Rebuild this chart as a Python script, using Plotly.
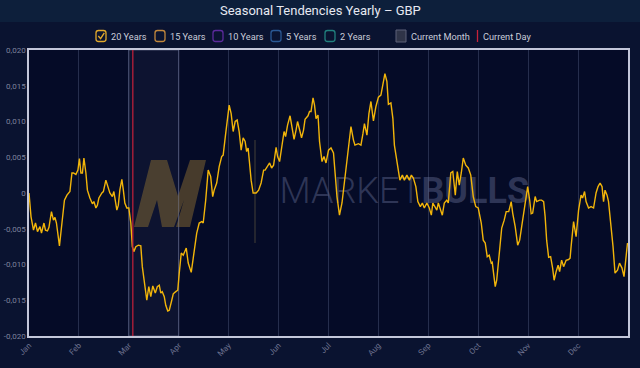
import plotly.graph_objects as go

# ---- data ----
month_labels = ["Jan", "Feb", "Mar", "Apr", "May", "Jun", "Jul", "Aug", "Sep", "Oct", "Nov", "Dec"]
month_ticks = list(range(12))

x_pos = [0.00, 0.04, 0.09, 0.13, 0.17, 0.22, 0.25, 0.30, 0.33, 0.37, 0.40, 0.45, 0.49, 0.52, 0.55, 0.61, 0.66, 0.71, 0.76, 0.79,
         0.82, 0.86, 0.89, 0.94, 0.98, 1.01, 1.04, 1.07, 1.10, 1.14, 1.17, 1.22, 1.27, 1.30, 1.34, 1.37, 1.40, 1.46, 1.49, 1.54,
         1.58, 1.62, 1.67, 1.70, 1.76, 1.79, 1.82, 1.86, 1.89, 1.92, 1.96, 2.00, 2.04, 2.07, 2.10, 2.14, 2.19, 2.24, 2.27, 2.31,
         2.36, 2.40, 2.44, 2.48, 2.53, 2.57, 2.61, 2.64, 2.67, 2.71, 2.74, 2.78, 2.81, 2.86, 2.89, 2.94, 2.98, 3.01, 3.05, 3.09,
         3.15, 3.19, 3.25, 3.29, 3.36, 3.41, 3.46, 3.49, 3.54, 3.59, 3.64, 3.68, 3.71, 3.76, 3.81, 3.86, 3.89, 3.94, 3.98, 4.01,
         4.05, 4.09, 4.13, 4.17, 4.21, 4.25, 4.29, 4.33, 4.36, 4.39, 4.45, 4.49, 4.55, 4.60, 4.65, 4.70, 4.73, 4.78, 4.82, 4.86,
         4.90, 4.95, 4.98, 5.02, 5.06, 5.11, 5.14, 5.18, 5.23, 5.26, 5.31, 5.35, 5.38, 5.43, 5.46, 5.50, 5.53, 5.59, 5.62, 5.65,
         5.69, 5.72, 5.75, 5.79, 5.82, 5.87, 5.91, 5.95, 6.00, 6.05, 6.10, 6.17, 6.22, 6.27, 6.32, 6.37, 6.41, 6.45, 6.50, 6.53,
         6.60, 6.65, 6.69, 6.72, 6.77, 6.81, 6.85, 6.90, 6.95, 7.00, 7.05, 7.09, 7.13, 7.17, 7.20, 7.25, 7.29, 7.32, 7.37, 7.40,
         7.43, 7.48, 7.52, 7.57, 7.62, 7.66, 7.70, 7.75, 7.79, 7.84, 7.88, 7.92, 7.97, 8.02, 8.06, 8.09, 8.14, 8.17, 8.20, 8.25,
         8.28, 8.32, 8.37, 8.40, 8.45, 8.49, 8.54, 8.58, 8.62, 8.66, 8.70, 8.75, 8.80, 8.85, 8.90, 8.95, 9.00, 9.06, 9.10, 9.14,
         9.18, 9.22, 9.26, 9.28, 9.34, 9.37, 9.42, 9.47, 9.52, 9.56, 9.61, 9.66, 9.69, 9.74, 9.79, 9.83, 9.87, 9.93, 9.95, 9.99,
         10.03, 10.06, 10.09, 10.14, 10.17, 10.23, 10.27, 10.31, 10.34, 10.37, 10.41, 10.45, 10.49, 10.52, 10.56, 10.60, 10.63, 10.67, 10.71, 10.76,
         10.81, 10.84, 10.86, 10.91, 10.96, 11.01, 11.06, 11.09, 11.13, 11.16, 11.21, 11.26, 11.31, 11.36, 11.40, 11.44, 11.48, 11.51, 11.54, 11.58,
         11.61, 11.66, 11.70, 11.74, 11.79, 11.83, 11.88, 11.92, 11.96, 11.99]

seasonal_20y = [0.0000, -0.0033, -0.0052, -0.0042, -0.0054, -0.0047, -0.0056, -0.0042, -0.0052, -0.0053, -0.0048, -0.0026, -0.0038, -0.0034, -0.0042, -0.0074, -0.0042, -0.0010, -0.0003, 0.0000,
                0.0002, 0.0028, 0.0028, 0.0026, 0.0032, 0.0048, 0.0028, 0.0028, 0.0049, 0.0028, 0.0004, -0.0007, -0.0015, -0.0012, -0.0021, -0.0017, -0.0007, 0.0000, 0.0002, 0.0018,
                0.0009, 0.0000, -0.0005, 0.0002, -0.0024, -0.0017, 0.0004, 0.0019, 0.0004, -0.0014, -0.0021, -0.0021, -0.0042, -0.0075, -0.0082, -0.0075, -0.0073, -0.0074, -0.0103, -0.0126,
                -0.0150, -0.0131, -0.0145, -0.0130, -0.0140, -0.0131, -0.0129, -0.0140, -0.0138, -0.0145, -0.0157, -0.0165, -0.0164, -0.0150, -0.0141, -0.0138, -0.0136, -0.0112, -0.0084, -0.0087,
                -0.0077, -0.0098, -0.0111, -0.0091, -0.0056, -0.0042, -0.0040, -0.0042, -0.0010, 0.0032, 0.0023, -0.0005, 0.0004, 0.0014, 0.0037, 0.0051, 0.0053, 0.0083, 0.0111, 0.0123,
                0.0111, 0.0086, 0.0100, 0.0102, 0.0086, 0.0060, 0.0077, 0.0072, 0.0058, 0.0063, 0.0018, 0.0000, 0.0000, 0.0004, 0.0014, 0.0032, 0.0032, 0.0037, 0.0042, 0.0035,
                0.0039, 0.0064, 0.0051, 0.0044, 0.0065, 0.0086, 0.0079, 0.0095, 0.0108, 0.0093, 0.0075, 0.0088, 0.0100, 0.0086, 0.0077, 0.0088, 0.0103, 0.0108, 0.0114, 0.0114,
                0.0133, 0.0123, 0.0104, 0.0109, 0.0072, 0.0044, 0.0051, 0.0042, 0.0060, 0.0063, 0.0056, -0.0005, -0.0031, -0.0014, 0.0014, 0.0046, 0.0063, 0.0093, 0.0074, 0.0067,
                0.0069, 0.0067, 0.0083, 0.0097, 0.0081, 0.0111, 0.0128, 0.0101, 0.0121, 0.0134, 0.0137, 0.0153, 0.0167, 0.0156, 0.0124, 0.0126, 0.0104, 0.0067, 0.0046, 0.0028,
                0.0018, 0.0025, 0.0018, 0.0025, 0.0018, 0.0025, 0.0021, 0.0009, -0.0012, -0.0019, -0.0014, -0.0021, -0.0014, -0.0021, -0.0031, -0.0014, -0.0021, -0.0024, -0.0014, -0.0024,
                -0.0031, -0.0014, -0.0010, -0.0014, 0.0028, 0.0030, -0.0003, 0.0030, 0.0011, 0.0028, 0.0049, 0.0039, 0.0035, 0.0025, -0.0005, -0.0019, -0.0021, -0.0042, -0.0066, -0.0070,
                -0.0089, -0.0087, -0.0098, -0.0097, -0.0131, -0.0122, -0.0084, -0.0049, -0.0038, -0.0026, -0.0026, -0.0012, -0.0028, -0.0047, -0.0073, -0.0066, -0.0047, -0.0019, -0.0005, 0.0009,
                -0.0010, -0.0029, -0.0028, -0.0005, -0.0012, -0.0010, -0.0010, -0.0012, -0.0033, -0.0066, -0.0090, -0.0089, -0.0105, -0.0122, -0.0110, -0.0101, -0.0110, -0.0094, -0.0103, -0.0094,
                -0.0093, -0.0091, -0.0075, -0.0040, -0.0061, -0.0024, -0.0003, -0.0007, 0.0002, -0.0012, -0.0021, -0.0019, -0.0021, 0.0000, 0.0009, 0.0014, 0.0009, -0.0012, 0.0004, -0.0003,
                -0.0012, -0.0042, -0.0075, -0.0112, -0.0108, -0.0098, -0.0105, -0.0117, -0.0094, -0.0070]

y_ticks = [0.020, 0.015, 0.010, 0.005, 0.0, -0.005, -0.010, -0.015, -0.020]
y_tick_labels = ["0,020", "0,015", "0,010", "0,005", "0", "-0,005", "-0,010", "-0,015", "-0,020"]

current_month = (2, 3)   # March
current_day = 2.08

legend_names = ["20 Years", "15 Years", "10 Years", "5 Years", "2 Years"]
legend_colors = ["#e2a92b", "#c2873c", "#5c2a9c", "#2a5894", "#21807e"]

# ---- helpers (pixel -> paper) ----
W, H = 640, 368
ML, MR, MT, MB = 29, 12, 50, 32
PW, PH = W - ML - MR, H - MT - MB


def X(px):
    return (px - ML) / PW


def Y(py):
    return (H - MB - py) / PH


def rrect(x0, y0, x1, y1, r):
    return (f"M {X(x0 + r)},{Y(y0)} L {X(x1 - r)},{Y(y0)} Q {X(x1)},{Y(y0)} {X(x1)},{Y(y0 + r)} "
            f"L {X(x1)},{Y(y1 - r)} Q {X(x1)},{Y(y1)} {X(x1 - r)},{Y(y1)} "
            f"L {X(x0 + r)},{Y(y1)} Q {X(x0)},{Y(y1)} {X(x0)},{Y(y1 - r)} "
            f"L {X(x0)},{Y(y0 + r)} Q {X(x0)},{Y(y0)} {X(x0 + r)},{Y(y0)} Z")


fig = go.Figure()

# watermark text (under the line)
fig.add_trace(go.Scatter(
    x=[7.52], y=[-0.0001], mode="text",
    text=['<span style="font-weight:300">MARKET</span><b>BULLS</b>'],
    textfont=dict(family="Roboto", size=36, color="rgba(115,125,165,0.38)"),
    hoverinfo="skip", showlegend=False, cliponaxis=False,
))

fig.add_trace(go.Scatter(
    x=x_pos, y=seasonal_20y, mode="lines",
    line=dict(color="#f2b50a", width=1.4),
    name="20 Years", showlegend=False,
))

shapes = []
# header band
shapes.append(dict(type="rect", xref="paper", yref="paper", x0=X(0), x1=X(W), y0=Y(22), y1=Y(0),
                   fillcolor="#0d1f3b", line=dict(width=0), layer="below"))
# current month shading
shapes.append(dict(type="rect", xref="x", yref="paper", x0=current_month[0], x1=current_month[1], y0=0, y1=1,
                   fillcolor="rgba(150,160,200,0.06)", line=dict(color="rgba(150,155,185,0.4)", width=1), layer="below"))
# logo
logo = [(134, 227), (151, 160), (167, 160), (178, 196), (190, 160), (206, 160), (190, 227), (176, 227),
        (184, 200), (174, 227), (162, 227), (157, 200), (148, 227)]
path = "M " + " L ".join(f"{X(a)},{Y(b)}" for a, b in logo) + " Z"
shapes.append(dict(type="path", xref="paper", yref="paper", path=path,
                   fillcolor="rgba(125,100,50,0.55)", line=dict(width=0), layer="below"))
shapes.append(dict(type="line", xref="paper", yref="paper", x0=X(255), x1=X(255), y0=Y(140), y1=Y(243),
                   line=dict(color="rgba(120,112,70,0.55)", width=1), layer="below"))
# current day line
shapes.append(dict(type="line", xref="x", yref="paper", x0=current_day, x1=current_day, y0=0, y1=1,
                   line=dict(color="#c8213a", width=1.2), layer="above"))

annotations = []
# title
annotations.append(dict(xref="paper", yref="paper", x=X(320), y=Y(11), text="Seasonal Tendencies Yearly – GBP",
                        showarrow=False, font=dict(family="Roboto", size=13, color="#e6e9f2"),
                        xanchor="center", yanchor="middle"))

# legend
LEG_FONT = dict(family="Roboto", size=9.2, color="#c9ccd9")
box_x = [96, 155, 213, 271, 325]
for name, col, bx in zip(legend_names, legend_colors, box_x):
    shapes.append(dict(type="path", xref="paper", yref="paper", path=rrect(bx, 30.5, bx + 10, 41.5, 2.5),
                       line=dict(color=col, width=1.3), fillcolor="rgba(0,0,0,0)"))
    annotations.append(dict(xref="paper", yref="paper", x=X(bx + 13), y=Y(36), text=name, showarrow=False,
                            font=LEG_FONT, xanchor="left", yanchor="middle"))
# check mark on 20 Years
shapes.append(dict(type="path", xref="paper", yref="paper",
                   path=f"M {X(98.3)},{Y(36)} L {X(100.6)},{Y(38.6)} L {X(104.3)},{Y(32.8)}",
                   line=dict(color=legend_colors[0], width=1.4)))
# current month swatch
shapes.append(dict(type="rect", xref="paper", yref="paper", x0=X(396), x1=X(406), y0=Y(42), y1=Y(30),
                   fillcolor="#2f3448", line=dict(color="#5d6178", width=1)))
annotations.append(dict(xref="paper", yref="paper", x=X(409), y=Y(36), text="Current Month", showarrow=False,
                        font=LEG_FONT, xanchor="left", yanchor="middle"))
shapes.append(dict(type="line", xref="paper", yref="paper", x0=X(477.5), x1=X(477.5), y0=Y(42), y1=Y(30),
                   line=dict(color="#c8213a", width=1.3)))
annotations.append(dict(xref="paper", yref="paper", x=X(481), y=Y(36), text="Current Day", showarrow=False,
                        font=LEG_FONT, xanchor="left", yanchor="middle"))

fig.update_layout(
    width=W, height=H,
    margin=dict(l=ML, r=MR, t=MT, b=MB, autoexpand=False),
    paper_bgcolor="#0a1330",
    plot_bgcolor="#050b27",
    showlegend=False,
    hovermode=False,
    shapes=shapes,
    annotations=annotations,
    xaxis=dict(range=[0, 12], tickvals=month_ticks, ticktext=month_labels, tickangle=-45,
               showgrid=True, gridcolor="rgba(110,120,160,0.32)", gridwidth=1, automargin=False,
               showline=True, mirror=True, linecolor="#c3c7da", linewidth=1.5,
               zeroline=False, ticks="", tickfont=dict(family="Roboto", size=8, color="#6f7491")),
    yaxis=dict(range=[-0.02, 0.02], tickvals=y_ticks, ticktext=y_tick_labels, automargin=False,
               showgrid=False, showline=True, mirror=True, linecolor="#c3c7da", linewidth=1.5,
               zeroline=False, ticks="", tickfont=dict(family="Roboto", size=8, color="#7d829c")),
)

fig.write_html("out.html", config={"displayModeBar": False},
               post_script="document.body.style.margin='0';document.body.style.background='#0a1330';")
